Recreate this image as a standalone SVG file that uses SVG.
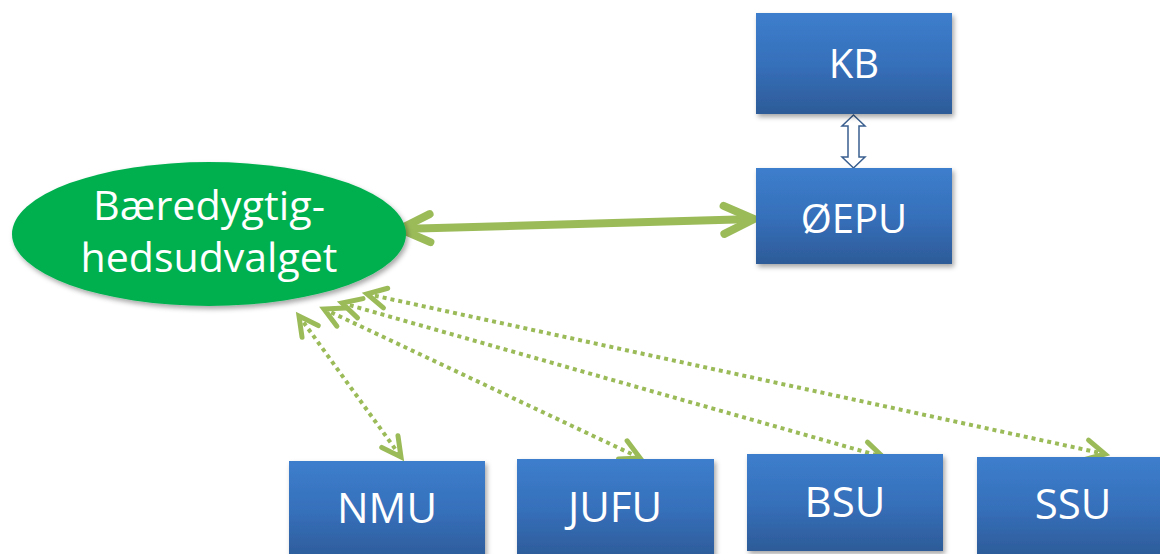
<svg xmlns="http://www.w3.org/2000/svg" width="1160" height="554" viewBox="0 0 1160 554">
  <style>
    .box { fill: url(#blueGrad); filter: url(#shadow); }
    .lbl { font-family: "Open Sans", "Liberation Sans", sans-serif; fill: #ffffff; text-anchor: middle; }
    .big { font-size: 40px; }
    .bot { font-size: 42px; }
    .main { fill: none; stroke: #9BBB59; stroke-width: 8; }
    .dot { fill: none; stroke: #9BBB59; stroke-width: 4; stroke-dasharray: 4 4; }
  </style>
  <defs>
    <linearGradient id="blueGrad" x1="0" y1="0" x2="0" y2="1">
      <stop offset="0" stop-color="#3d7ecc"/>
      <stop offset="0.5" stop-color="#3670bb"/>
      <stop offset="1" stop-color="#2d5b98"/>
    </linearGradient>
    <filter id="shadow" x="-10%" y="-10%" width="125%" height="130%">
      <feDropShadow dx="2" dy="3" stdDeviation="2.5" flood-color="#000000" flood-opacity="0.35"/>
    </filter>
    <marker id="headMain" markerUnits="userSpaceOnUse" viewBox="-40 -20 48 40" refX="0" refY="0" markerWidth="48" markerHeight="40" orient="auto-start-reverse" overflow="visible">
      <path d="M -30 -14 L 0 0 L -30 14" fill="none" stroke="#9BBB59" stroke-width="8" stroke-linecap="round" stroke-linejoin="miter"/>
    </marker>
    <marker id="headDot" markerUnits="userSpaceOnUse" viewBox="-26 -14 32 28" refX="0" refY="0" markerWidth="32" markerHeight="28" orient="auto-start-reverse" overflow="visible">
      <path d="M -19 -10 L 0 0 L -19 10" fill="none" stroke="#9BBB59" stroke-width="5" stroke-dasharray="none" stroke-linecap="round" stroke-linejoin="miter"/>
    </marker>
  </defs>

  <g id="connectors">
    <line class="main" x1="400" y1="229" x2="754" y2="219" marker-start="url(#headMain)" marker-end="url(#headMain)"/>
    <line class="dot" x1="299" y1="316" x2="401" y2="457" marker-start="url(#headDot)" marker-end="url(#headDot)"/>
    <line class="dot" x1="324" y1="309" x2="640" y2="458" marker-start="url(#headDot)" marker-end="url(#headDot)"/>
    <line class="dot" x1="342" y1="303" x2="883" y2="457" marker-start="url(#headDot)" marker-end="url(#headDot)"/>
    <line class="dot" x1="367" y1="294" x2="1105" y2="454" marker-start="url(#headDot)" marker-end="url(#headDot)"/>
    <path id="kb-epu" d="M 853.5 115 L 865 126 L 859 126 L 859 157 L 865 157 L 853.5 168 L 842 157 L 848 157 L 848 126 L 842 126 Z" fill="#ffffff" stroke="#3a5f8f" stroke-width="1.5" stroke-linejoin="miter"/>
  </g>

  <g id="node-baeredygtig">
    <ellipse cx="209" cy="234" rx="197" ry="72" fill="#00B050" filter="url(#shadow)"/>
    <text class="lbl big" x="209" y="220" textLength="232" lengthAdjust="spacingAndGlyphs">Bæredygtig-</text>
    <text class="lbl big" x="209" y="272" textLength="257" lengthAdjust="spacingAndGlyphs">hedsudvalget</text>
  </g>

  <g id="node-kb">
    <rect class="box" x="756" y="13" width="196" height="101"/>
    <text class="lbl big" x="854" y="78">KB</text>
  </g>

  <g id="node-oepu">
    <rect class="box" x="756" y="168" width="196" height="96"/>
    <text class="lbl big" x="854" y="233">ØEPU</text>
  </g>

  <g id="node-nmu">
    <rect class="box" x="289" y="461" width="196" height="100"/>
    <text class="lbl bot" x="387" y="523">NMU</text>
  </g>

  <g id="node-jufu">
    <rect class="box" x="517" y="459" width="197" height="100"/>
    <text class="lbl bot" x="615" y="522">JUFU</text>
  </g>

  <g id="node-bsu">
    <rect class="box" x="747" y="454" width="196" height="97"/>
    <text class="lbl bot" x="845" y="517">BSU</text>
  </g>

  <g id="node-ssu">
    <rect class="box" x="977" y="457" width="196" height="100"/>
    <text class="lbl bot" x="1073" y="519">SSU</text>
  </g>
</svg>
